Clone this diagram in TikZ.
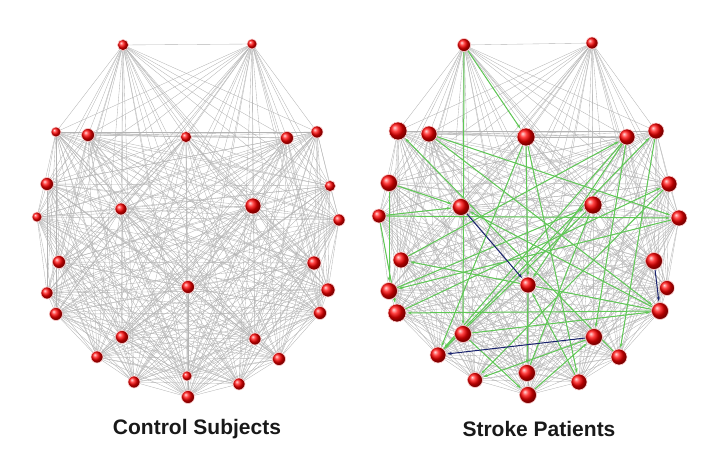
\documentclass[tikz,border=0pt]{standalone}
\usepackage{fontspec}
\setmainfont{Liberation Sans}
\usetikzlibrary{arrows.meta,shadings}

\definecolor{linkgray}{RGB}{180,180,180}
\definecolor{linkgreen}{RGB}{95,200,85}
\definecolor{linkblue}{RGB}{25,35,110}

\pgfdeclarelayer{background}
\pgfsetlayers{background,main}

\begin{document}
\begin{tikzpicture}[
    x=1pt, y=-1pt,
    roi/.style={circle, inner sep=0pt, shading=ball, ball color=red, draw=red!20, line width=0.6pt},
    link/.style={linkgray, line width=0.35pt},
    gain/.style={linkgreen, line width=1pt, -{Stealth[length=4.5pt,width=3pt]}, shorten >=1pt},
    loss/.style={linkblue, line width=1pt, -{Stealth[length=4.5pt,width=3pt]}, shorten >=1pt},
    caption/.style={font=\bfseries\fontsize{21}{25}\selectfont, text=black!90},
  ]
    \useasboundingbox (0,0) rectangle (723,460);

    % control subjects
    \foreach \n/\x/\y/\d in {1/123/45/11, 2/252/44/10, 3/56/132/10, 4/88/135/13, 5/186/137/11,
        6/287/138/13, 7/317/132/12, 8/47/184/13, 9/330/186/11, 10/121/209/12,
        11/253/206/16, 12/37/217/10, 13/339/220/12, 14/59/262/13, 15/314/263/14,
        16/188/287/13, 17/47/293/12, 18/328/290/14, 19/56/314/13, 20/320/313/13,
        21/122/337/13, 22/255/339/12, 23/97/357/12, 24/279/359/13, 25/134/382/12,
        26/187/376/10, 27/239/384/12, 28/188/397/13}
      \node[roi, minimum size=\d pt] (c\n) at (\x,\y) {};

    % stroke patients
    \foreach \n/\x/\y/\d in {1/464/45/13, 2/592/43/12, 3/398/131/18, 4/429/134/16, 5/526/137/18,
        6/627/137/16, 7/656/131/16, 8/389/183/17, 9/669/184/16, 10/461/207/17,
        11/593/205/18, 12/379/216/14, 13/679/218/16, 14/401/260/16, 15/654/261/17,
        16/528/285/16, 17/389/291/17, 18/667/288/15, 19/397/313/18, 20/660/311/17,
        21/463/334/17, 22/594/337/17, 23/438/355/16, 24/619/357/16, 25/475/380/15,
        26/527/373/17, 27/579/382/16, 28/528/395/17}
      \node[roi, minimum size=\d pt] (s\n) at (\x,\y) {};

    \begin{pgfonlayer}{background}
      % all-to-all gray links
      \foreach \i in {1,...,27}{
        \pgfmathtruncatemacro{\nxt}{\i+1}
        \foreach \j in {\nxt,...,28}{
          \draw[link] (c\i.center) -- (c\j.center);
          \draw[link] (s\i.center) -- (s\j.center);
        }
      }
      % increased connections
      \foreach \a/\b in {1/21, 1/5, 4/13, 4/20, 5/16, 5/23, 5/27, 6/23, 6/16, 6/22,
          7/24, 9/25, 8/10, 12/10, 12/13, 8/17, 12/19, 20/14, 20/19, 20/10,
          21/20, 21/28, 16/26, 22/25, 27/16, 17/11, 13/17, 14/6, 11/23, 19/9,
          24/3, 23/7, 26/11, 28/22}
        \draw[gain] (s\a) -- (s\b);
      % decreased connections
      \foreach \a/\b in {10/16, 22/23, 15/20}
        \draw[loss] (s\a) -- (s\b);
    \end{pgfonlayer}

    \node[caption] (ctl) at (197,429) {Control Subjects};
    \node[caption] (stk) at (539,429) {Stroke Patients};
  \end{tikzpicture}
\end{document}
